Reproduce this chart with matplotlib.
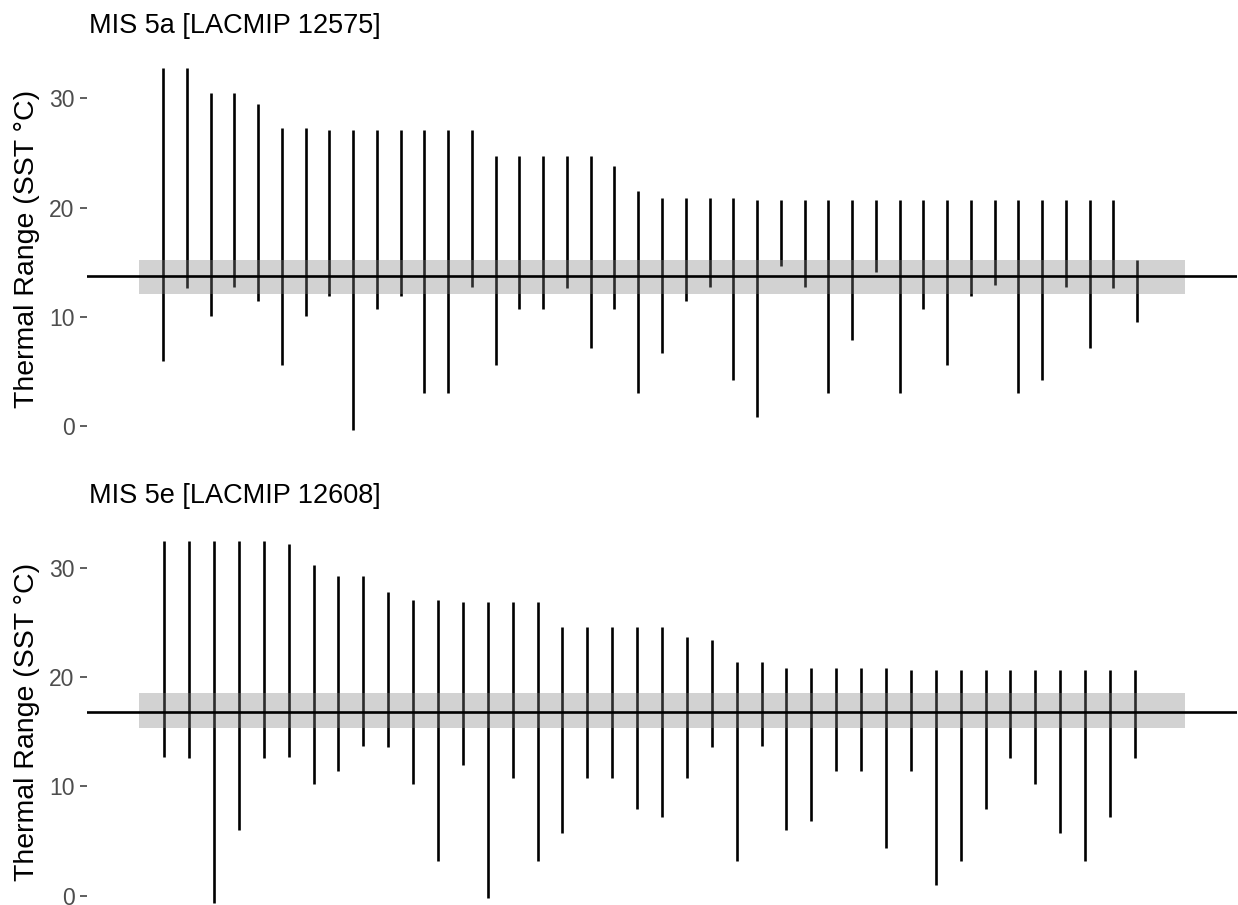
import matplotlib
matplotlib.use("Agg")
import matplotlib.pyplot as plt
import numpy as np

plt.rcParams['font.family'] = ['Liberation Sans', 'DejaVu Sans']

# ---- data ----
titles = ["MIS 5a [LACMIP 12575]", "MIS 5e [LACMIP 12608]"]

top_hi = [32.8, 32.8, 30.5, 30.5, 29.5, 27.3, 27.3, 27.1, 27.1, 27.1,
          27.1, 27.1, 27.1, 27.1, 24.7, 24.7, 24.7, 24.7, 24.7, 23.8,
          21.5, 20.9, 20.9, 20.9, 20.9, 20.7, 20.7, 20.7, 20.7, 20.7,
          20.7, 20.7, 20.7, 20.7, 20.7, 20.7, 20.7, 20.7, 20.7, 20.7,
          20.7, 15.2]
top_lo = [5.9, 12.6, 10.1, 12.7, 11.4, 5.6, 10.1, 11.9, -0.4, 10.7,
          11.9, 3.0, 3.0, 12.7, 5.6, 10.75, 10.75, 12.6, 7.1, 10.75,
          3.0, 6.7, 11.4, 12.7, 4.2, 0.8, 14.6, 12.7, 3.0, 7.85,
          14.1, 3.0, 10.75, 5.6, 11.9, 12.9, 3.0, 4.2, 12.7, 7.1,
          12.6, 9.5]

bot_hi = [32.5, 32.5, 32.5, 32.5, 32.5, 32.2, 30.3, 29.3, 29.3, 27.8,
          27.1, 27.1, 26.9, 26.9, 26.9, 26.9, 24.6, 24.6, 24.6, 24.6,
          24.6, 23.7, 23.4, 21.4, 21.4, 20.85, 20.85, 20.85, 20.85, 20.85,
          20.67, 20.67, 20.67, 20.67, 20.67, 20.67, 20.67, 20.67, 20.67, 20.67]
bot_lo = [12.7, 12.6, -0.7, 6.0, 12.6, 12.7, 10.2, 11.45, 13.7, 13.6,
          10.2, 3.15, 12.0, -0.24, 10.8, 3.15, 5.7, 10.8, 10.8, 7.97,
          7.2, 10.8, 13.6, 3.15, 13.7, 6.0, 6.84, 11.45, 11.45, 4.34,
          11.45, 0.95, 3.15, 7.94, 12.64, 10.2, 5.77, 3.15, 7.2, 12.64]

site_sst = [13.7, 16.85]
site_lo = [12.07, 15.36]
site_hi = [15.16, 18.56]

yticks = [0, 10, 20, 30]
ylabel = "Thermal Range (SST °C)"

panels = [(top_lo, top_hi), (bot_lo, bot_hi)]

W, H = 1238, 905
fig = plt.figure(figsize=(W / 100, H / 100), dpi=100)

# panel pixel extents (left, right, top, bottom)
px = [(87, 1237, 49.6, 448.4), (87, 1237, 522.6, 921.5)]
title_base = [32.7, 502.7]

for i, (lo, hi) in enumerate(panels):
    l, r, t, b = px[i]
    ax = fig.add_axes([l / W, 1 - b / H, (r - l) / W, (b - t) / H])
    n = len(lo)
    x = np.arange(1, n + 1)
    ax.vlines(x, lo, hi, color='black', lw=1.9, zorder=2)
    bx0, bx1 = 0, n + 2
    ax.fill_between([bx0, bx1], site_lo[i], site_hi[i], color='#7f7f7f',
                    alpha=0.35, lw=0, zorder=3)
    ax.axhline(site_sst[i], color='black', lw=1.9, zorder=4)
    # ggplot-like 5% expansion
    ymin = min(min(lo), site_lo[i]); ymax = max(max(hi), site_hi[i])
    sp = ymax - ymin
    ax.set_ylim(ymin - 0.05 * sp, ymax + 0.05 * sp)
    xs = bx1 - bx0
    ax.set_xlim(bx0 - 0.05 * xs, bx1 + 0.05 * xs)
    for s in ax.spines.values():
        s.set_visible(False)
    ax.set_xticks([])
    ax.set_yticks(yticks)
    ax.set_yticklabels([str(v) for v in yticks])
    ax.tick_params(axis='y', length=5, width=1.1, color='#333333',
                   labelcolor='#4D4D4D', labelsize=16.5, pad=4)
    ax.set_facecolor('none')
    fig.text(89 / W, 1 - title_base[i] / H, titles[i], fontsize=19.5,
             ha='left', va='baseline', color='black')
    fig.text(27.5 / W, 1 - ((t + b) / 2) / H, ylabel, fontsize=20.5,
             rotation=90, ha='center', va='center', color='black')

fig.savefig('out.png', dpi=100)
